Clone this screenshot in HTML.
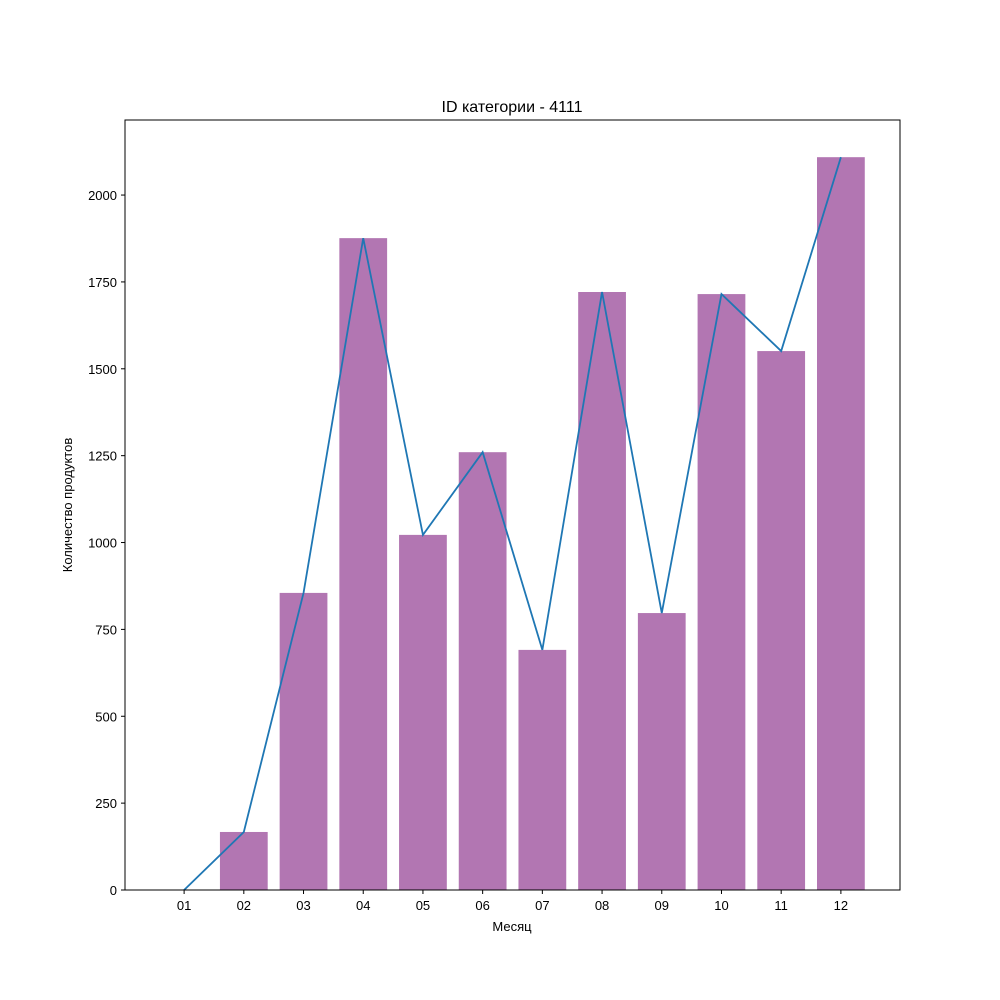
<!DOCTYPE html>
<html><head><meta charset="utf-8"><style>
body{margin:0;background:#fff;}
svg{display:block;font-family:"Liberation Sans","DejaVu Sans",sans-serif;}
</style></head><body>
<svg id="chart" width="1000" height="1000" viewBox="0 0 1000 1000">
<rect width="1000" height="1000" fill="#fff"/>
<text x="512" y="112" text-anchor="middle" font-size="16">ID категории - 4111</text>
<g id="bars"></g><g id="line"></g><g id="axes"></g>
<text x="512" y="931" text-anchor="middle" font-size="13">Месяц</text>
<text transform="translate(72,505) rotate(-90)" text-anchor="middle" font-size="13">Количество продуктов</text>
</svg>
<script>
const categories=["01","02","03","04","05","06","07","08","09","10","11","12"];
const values=[0,167,855,1876,1022,1260,691,1721,797,1715,1551,2109];
const yTicks=[0,250,500,750,1000,1250,1500,1750,2000];
const L=125,R=900,T=120,B=890,xmin=-0.99,xmax=11.99,ymax=2216;
const sx=i=>L+(i-xmin)/(xmax-xmin)*(R-L);
const sy=v=>B-v/ymax*(B-T);
const NS="http://www.w3.org/2000/svg";
function mk(t,a,p){const e=document.createElementNS(NS,t);for(const k in a)e.setAttribute(k,a[k]);p.appendChild(e);return e;}
const bars=document.getElementById('bars'),line=document.getElementById('line'),axes=document.getElementById('axes');
values.forEach((v,i)=>{
 const r=mk('rect',{x:sx(i-0.4),y:sy(v),width:sx(0.4)-sx(-0.4),height:B-sy(v),fill:'#b276b2'},bars);
 
 
});
const pl=mk('polyline',{points:values.map((v,i)=>sx(i)+','+sy(v)).join(' '),fill:'none',stroke:'#1f77b4','stroke-width':1.8},line);


const fr=mk('rect',{x:L,y:T,width:R-L,height:B-T,fill:'none',stroke:'#000','stroke-width':1},axes);


categories.forEach((c,i)=>{
 mk('line',{x1:sx(i),x2:sx(i),y1:B,y2:B+4,stroke:'#000'},axes);
 const t=mk('text',{x:sx(i),y:B+20,'text-anchor':'middle','font-size':13},axes);t.textContent=c;
 
 
});
yTicks.forEach(v=>{
 mk('line',{x1:L-4,x2:L,y1:sy(v),y2:sy(v),stroke:'#000'},axes);
 const t=mk('text',{x:L-8,y:sy(v)+5,'text-anchor':'end','font-size':13},axes);t.textContent=v;
 
 
});
</script>
</body></html>
